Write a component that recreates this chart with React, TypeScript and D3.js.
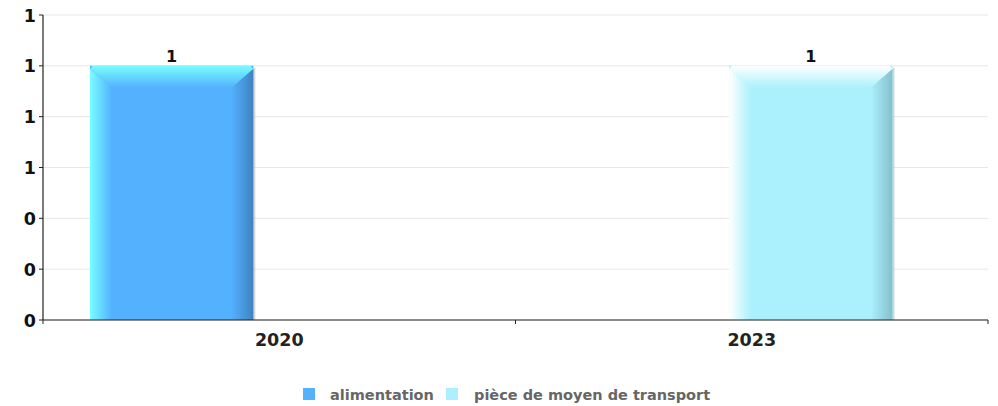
import React from "react";
import * as d3 from "d3";

const categories = ["2020", "2023"];
const seriesNames = ["alimentation", "pièce de moyen de transport"];
const alimentation = [1, 0];
const piece = [0, 1];
const yTicks = [0, 0.2, 0.4, 0.6, 0.8, 1.0, 1.2];

const W = 998;
const H = 406;
const left = 43;
const right = 988;
const top = 15;
const bottom = 320;

const palettes = [
  { main: "#53b1fe", light: "#78fdff", dark: "#3f82c0", id: "s0" },
  { main: "#abf1fd", light: "#ffffff", dark: "#85c0cb", id: "s1" },
];

export default function App() {
  const x = d3.scaleBand<string>().domain(categories).range([left, right]).padding(0);
  const xSub = d3.scaleBand<string>().domain(seriesNames).range([47, 377]).paddingInner(0.02);
  const y = d3.scaleLinear().domain([0, 1.2]).range([bottom, top]);
  const fmt = d3.format(".0f");
  const data = [alimentation, piece];
  const b = 22;
  const font = "'DejaVu Sans', sans-serif";

  const bars: React.ReactNode[] = [];
  data.forEach((vals, si) => {
    vals.forEach((v, ci) => {
      if (v <= 0) return;
      const p = palettes[si];
      const x0 = (x(categories[ci]) as number) + (xSub(seriesNames[si]) as number);
      const bw = xSub.bandwidth();
      const x1 = x0 + bw;
      const y0 = y(v);
      const y1 = y(0);
      bars.push(
        <g key={`${si}-${ci}`}>
          <rect x={x1} y={y0 + 2} width={2} height={y1 - y0 - 2} fill="#bbb" opacity={0.6} />
          <rect x={x0} y={y0} width={bw} height={y1 - y0} fill={p.main} />
          <polygon
            points={`${x0},${y0 + 3} ${x0 + b},${y0 + b} ${x0 + b},${y1} ${x0},${y1}`}
            fill={`url(#${p.id}-l)`}
          />
          <polygon
            points={`${x1},${y0 + 3} ${x1 - b},${y0 + b} ${x1 - b},${y1} ${x1},${y1}`}
            fill={`url(#${p.id}-r)`}
          />
          <polygon
            points={`${x0 + 3},${y0} ${x1 - 3},${y0} ${x1},${y0 + 3} ${x1 - b},${y0 + b} ${x0 + b},${y0 + b} ${x0},${y0 + 3}`}
            fill={`url(#${p.id}-t)`}
          />
          <text
            x={(x0 + x1) / 2}
            y={y0 - 4}
            textAnchor="middle"
            fontFamily={font}
            fontWeight="bold"
            fontSize={16}
            fill="#111"
          >
            {v}
          </text>
        </g>
      );
    });
  });

  return (
    <svg
      width={W}
      height={H}
      style={{ position: "absolute", left: 0, top: 0, background: "#fff" }}
    >
      <defs>
        {palettes.map((p) => (
          <React.Fragment key={p.id}>
            <linearGradient id={`${p.id}-l`} x1="0" x2="1" y1="0" y2="0">
              <stop offset="0" stopColor={p.light} />
              <stop offset="1" stopColor={p.main} />
            </linearGradient>
            <linearGradient id={`${p.id}-r`} x1="0" x2="1" y1="0" y2="0">
              <stop offset="0" stopColor={p.main} />
              <stop offset="1" stopColor={p.dark} />
            </linearGradient>
            <linearGradient id={`${p.id}-t`} x1="0" x2="0" y1="0" y2="1">
              <stop offset="0" stopColor={p.light} />
              <stop offset="1" stopColor={p.main} />
            </linearGradient>
          </React.Fragment>
        ))}
      </defs>
      {yTicks.map((t) => (
        <g key={t}>
          <line x1={left} x2={right} y1={y(t)} y2={y(t)} stroke="#e6e6e6" strokeWidth={1} />
          <line x1={left - 4} x2={left} y1={y(t)} y2={y(t)} stroke="#222" />
          <text
            x={36}
            y={y(t) + 6.5}
            textAnchor="end"
            fontFamily={font}
            fontWeight="bold"
            fontSize={17.5}
            fill="#111"
          >
            {fmt(t)}
          </text>
        </g>
      ))}
      {bars}
      <line x1={left} x2={left} y1={top} y2={bottom} stroke="#222" strokeWidth={1.2} />
      <line x1={left} x2={right} y1={bottom} y2={bottom} stroke="#222" strokeWidth={1.2} />
      {[left, left + x.bandwidth(), right].map((tx, i) => (
        <line key={i} x1={tx} x2={tx} y1={bottom} y2={bottom + 4} stroke="#222" />
      ))}
      {categories.map((c) => (
        <text
          key={c}
          x={(x(c) as number) + x.bandwidth() / 2}
          y={346}
          textAnchor="middle"
          fontFamily={font}
          fontWeight="bold"
          fontSize={17.5}
          fill="#222"
        >
          {c}
        </text>
      ))}
      <g>
        <rect x={303} y={388} width={12} height={12} fill={palettes[0].main} />
        <text x={330} y={400} fontFamily={font} fontWeight="bold" fontSize={14.5} fill="#666">
          {seriesNames[0]}
        </text>
        <rect x={446} y={388} width={12} height={12} fill={palettes[1].main} />
        <text x={474} y={400} fontFamily={font} fontWeight="bold" fontSize={14.5} fill="#666">
          {seriesNames[1]}
        </text>
      </g>
    </svg>
  );
}
